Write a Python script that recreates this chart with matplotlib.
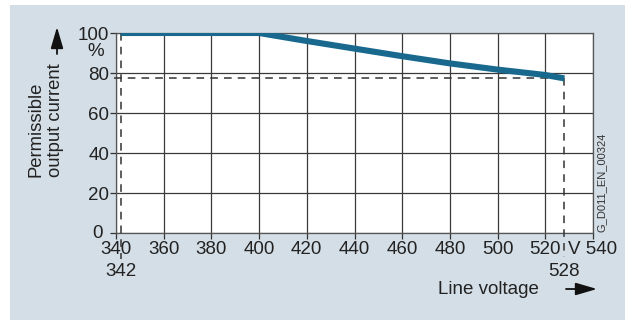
import matplotlib
matplotlib.use("Agg")
import matplotlib.pyplot as plt
import matplotlib.transforms as mtransforms
from matplotlib.patches import Rectangle, FancyArrowPatch

plt.rcParams['font.family'] = ['Liberation Sans', 'DejaVu Sans']

# Data
voltage = [342, 400, 420, 440, 460, 480, 500, 520, 528]
current = [100, 100, 96.0, 92.2, 88.4, 84.8, 81.7, 79.0, 77.3]
x_ticks = [340, 360, 380, 400, 420, 440, 460, 480, 500, 520, 540]
x_tick_labels = ["340", "360", "380", "400", "420", "440", "460", "480", "500", "520", "V 540"]
y_ticks = [0, 20, 40, 60, 80, 100]
v_min, v_max = 342, 528
i_min = 77.3

W, H = 634, 320
fig = plt.figure(figsize=(W / 100, H / 100), dpi=100)
fig.patch.set_facecolor('white')
fig.patches.append(Rectangle((10 / W, 0), 615 / W, 1 - 5 / H, transform=fig.transFigure,
                             facecolor='#d4dee6', edgecolor='none', zorder=-10))

ax = fig.add_axes([116 / W, 87 / H, 477 / W, 200 / H])
ax.set_facecolor('white')
ax.set_xlim(340, 540)
ax.set_ylim(0, 100)

ax.set_xticks(x_ticks)
ax.set_xticklabels(x_tick_labels)
ax.set_yticks(y_ticks)
ax.tick_params(axis='both', direction='out', length=4, width=0.9, color='#333333',
               labelsize=13.5, labelcolor='#222222')
ax.tick_params(axis='y', pad=1)
ax.tick_params(axis='x', pad=2)
ax.grid(True, color='#3a3a3a', linewidth=0.9)
ax.set_axisbelow(True)
for s in ax.spines.values():
    s.set_color('#555555')
    s.set_linewidth(0.9)

# the "0" label sits a little left/up of the others, clear of "340"
zero_lbl = ax.get_yticklabels()[0]
zero_lbl.set_transform(zero_lbl.get_transform() +
                       mtransforms.ScaledTranslation(-6 / 100, 2 / 100, fig.dpi_scale_trans))

dash = dict(color='#333333', linewidth=1.1, linestyle=(0, (5, 4)), clip_on=False, zorder=3)
ax.plot([v_min, v_min], [100, -13], **dash)
ax.plot([v_max, v_max], [i_min, -12], **dash)
ax.plot([339, v_max], [i_min, i_min], **dash)

ax.plot(voltage, current, color='#19698f', linewidth=4.4, solid_capstyle='butt', zorder=4)

# secondary labels under the axis
ax.text(v_min, -15, str(v_min), ha='center', va='top', fontsize=13.5, color='#222222')
ax.text(v_max, -15, str(v_max), ha='center', va='top', fontsize=13.5, color='#222222')

# percent sign
fig.text(96 / W, 1 - 51 / H, '%', ha='center', va='center', fontsize=13.5, color='#222222')

arrow_style = '-|>,head_length=13,head_width=3.8'

# y-axis label
fig.text(46 / W, 1 - 177 / H, 'Permissible\noutput current', rotation=90, ha='center',
         va='bottom', multialignment='left', fontsize=13.3, color='#222222', linespacing=1.2)
fig.add_artist(FancyArrowPatch((57 / W, 1 - 54 / H), (57 / W, 1 - 27 / H),
               transform=fig.transFigure, arrowstyle=arrow_style,
               color='#111111', linewidth=1.3, mutation_scale=1, shrinkA=0, shrinkB=0))

# x-axis label
fig.text(488 / W, 1 - 290 / H, 'Line voltage', ha='center', va='center', fontsize=13.5, color='#222222')
fig.add_artist(FancyArrowPatch((566 / W, 1 - 289 / H), (597 / W, 1 - 289 / H),
               transform=fig.transFigure, arrowstyle=arrow_style,
               color='#111111', linewidth=1.3, mutation_scale=1, shrinkA=0, shrinkB=0))

# figure id
fig.text(602 / W, 1 - 232 / H, 'G_D011_EN_00324', rotation=90, ha='center', va='bottom',
         fontsize=8, color='#333333')

fig.savefig('out.png', dpi=100)
